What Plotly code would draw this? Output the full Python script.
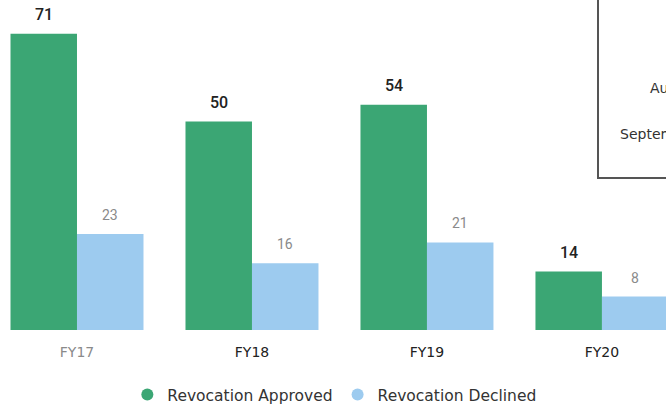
import plotly.graph_objects as go

categories = ["FY17", "FY18", "FY19", "FY20"]
approved = [71, 50, 54, 14]
declined = [23, 16, 21, 8]
series_names = ["Revocation Approved", "Revocation Declined"]
tick_colors = ["#8a8a8a", "#222222", "#222222", "#222222"]
box_texts = ["August", "September"]

green = "#3ba674"
blue = "#9dcbef"
font = "DejaVu Sans"

fig = go.Figure()
fig.add_bar(x=categories, y=approved, marker=dict(color=green, line_width=0),
            showlegend=False, hoverinfo="skip")
fig.add_bar(x=categories, y=declined, marker=dict(color=blue, line_width=0),
            showlegend=False, hoverinfo="skip")
# legend entries with round markers
for name, col in zip(series_names, [green, blue]):
    fig.add_scatter(x=[None], y=[None], mode="markers", name=name,
                    marker=dict(symbol="circle", size=12, color=col))

ann = []
for c, v in zip(categories, approved):
    ann.append(dict(x=c, y=v, xref="x", yref="y", text=str(v), showarrow=False,
                    xshift=-33, yshift=19,
                    font=dict(family="Roboto", size=16, color="#222", weight=500),
                    yanchor="middle"))
for c, v in zip(categories, declined):
    ann.append(dict(x=c, y=v, xref="x", yref="y", text=str(v), showarrow=False,
                    xshift=33, yshift=19, font=dict(family="Roboto", size=14, color="#8a8a8a"),
                    yanchor="middle"))
ann.append(dict(x=648/666, y=(330-88)/330, xref="paper", yref="paper", text=box_texts[0],
                showarrow=False, xanchor="left", yanchor="middle",
                font=dict(family=font, size=14, color="#333")))
ann.append(dict(x=618/666, y=(330-134)/330, xref="paper", yref="paper", text=box_texts[1],
                showarrow=False, xanchor="left", yanchor="middle",
                font=dict(family=font, size=14, color="#333")))

ticktext = [f"<span style='color:{col}'>{c}</span>" for c, col in zip(categories, tick_colors)]

fig.update_layout(
    width=666, height=407,
    margin=dict(l=0, r=0, t=0, b=77),
    paper_bgcolor="white", plot_bgcolor="white",
    barmode="group", bargap=0.24, bargroupgap=0,
    font=dict(family=font, size=14, color="#222"),
    xaxis=dict(range=[-0.44, 3.366], tickvals=categories, ticktext=ticktext,
               showgrid=False, zeroline=False, showline=False,
               ticks="outside", ticklen=9, tickcolor="rgba(0,0,0,0)",
               tickfont=dict(size=14), automargin=False),
    yaxis=dict(range=[0, 79.1], visible=False),
    legend=dict(orientation="h", x=0.502, xanchor="center", xref="container",
                y=1 - 395/407, yanchor="middle", yref="container",
                font=dict(size=15.5, color="#333"), itemwidth=30, tracegroupgap=0),
    annotations=ann,
    shapes=[dict(type="rect", xref="paper", yref="paper", x0=598/666, x1=1.2,
                 y0=(330-178)/330, y1=1.3, line=dict(color="#555", width=2),
                 fillcolor="rgba(0,0,0,0)")],
)

fig.write_html("out.html", config={"displayModeBar": False},
               post_script="document.body.style.margin='0';document.body.style.overflow='hidden';")
